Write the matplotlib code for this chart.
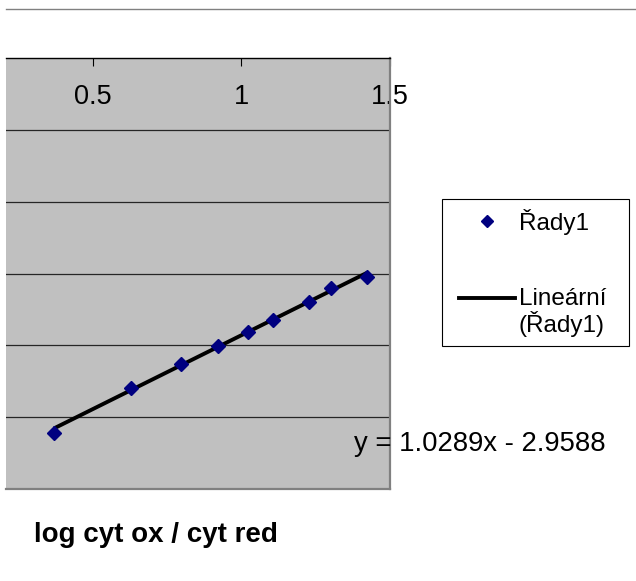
import matplotlib
matplotlib.use("Agg")
import matplotlib.pyplot as plt
from matplotlib.lines import Line2D
from matplotlib.patches import Rectangle
from matplotlib.legend_handler import HandlerLine2D
import numpy as np

plt.rcParams['font.family'] = ['Liberation Sans', 'DejaVu Sans']

# data
x_vals = [0.370, 0.629, 0.797, 0.923, 1.022, 1.106, 1.229, 1.302, 1.424]
y_vals = [-2.607, -2.300, -2.129, -2.003, -1.906, -1.825, -1.701, -1.604, -1.524]
slope = 1.0289
intercept = -2.9588
x_ticks = [0.5, 1.0, 1.5]
x_tick_labels = ["0.5", "1", "1.5"]
y_grid = [-0.5, -1.0, -1.5, -2.0, -2.5]
series_label = "Řady1"
trend_label = "Lineární\n(Řady1)"
equation = "y = 1.0289x - 2.9588"
x_title = "log cyt ox / cyt red"

W, H = 636, 581
fig = plt.figure(figsize=(W / 100, H / 100), dpi=100)

def fx(px):
    return px / W

def fy(py):
    return 1 - py / H

left, right, top, bottom = 6, 390, 58, 489
ax = fig.add_axes([fx(left), fy(bottom), fx(right) - fx(left), fy(top) - fy(bottom)])
ax.set_facecolor('#C0C0C0')
ax.set_xlim(0.2085, 1.5)
ax.set_ylim(-3, 0)

for g in y_grid:
    ax.axhline(g, color='#262626', lw=0.9, zorder=1)

xt = np.linspace(min(x_vals), max(x_vals), 50)
ax.plot(xt, slope * xt + intercept, color='black', lw=2.8, zorder=3, solid_capstyle='butt')
ax.plot(x_vals, y_vals, linestyle='none', marker='D', ms=7.3, color='#000080', zorder=4)

ax.spines['left'].set_visible(False)
ax.spines['top'].set_color('black')
ax.spines['top'].set_linewidth(1.0)
for s in ['right', 'bottom']:
    ax.spines[s].set_color('#808080')
    ax.spines[s].set_linewidth(1.6)

ax.set_yticks([])
ax.xaxis.tick_top()
ax.set_xticks(x_ticks)
ax.set_xticklabels(x_tick_labels)
ax.tick_params(axis='x', direction='in', length=6, width=0.8, color='#000000',
               labelsize=19.5, pad=-37.5, labeltop=True, labelbottom=False)

# top frame line
fig.add_artist(Line2D([fx(6), 1.0], [fy(9), fy(9)], color='#808080', lw=1.0))


class ShiftedLineHandler(HandlerLine2D):
    def __init__(self, dy=0.0, **kw):
        super().__init__(**kw)
        self.dy = dy

    def create_artists(self, legend, orig_handle, xdescent, ydescent, width,
                       height, fontsize, trans):
        arts = super().create_artists(legend, orig_handle, xdescent, ydescent,
                                      width, height, fontsize, trans)
        for a in arts:
            a.set_ydata(np.asarray(a.get_ydata()) + self.dy)
        return arts


# legend box
fig.add_artist(Rectangle((fx(442), fy(346)), fx(629) - fx(442), fy(199) - fy(346),
                         facecolor='white', edgecolor='black', lw=0.8, zorder=5))
marker_handle = Line2D([], [], linestyle='none', marker='D', ms=6.5, color='#000080')
line_handle = Line2D([], [], color='black', lw=2.8)
leg = fig.legend([marker_handle, line_handle], [series_label, trend_label], loc='upper left',
                 bbox_to_anchor=(fx(459), fy(209)), frameon=False, borderpad=0,
                 fontsize=17.5, handlelength=2.3, handletextpad=0.16,
                 labelspacing=2.17, borderaxespad=0,
                 handler_map={line_handle: ShiftedLineHandler(dy=10.5)})
leg.get_texts()[1].set_linespacing(1.05)
leg.set_zorder(6)

fig.text(fx(354), fy(450.7), equation, fontsize=19.8, va='baseline', ha='left')
fig.text(fx(34), fy(542.3), x_title, fontsize=20, fontweight='bold', va='baseline', ha='left')

fig.savefig("out.png", dpi=100)
